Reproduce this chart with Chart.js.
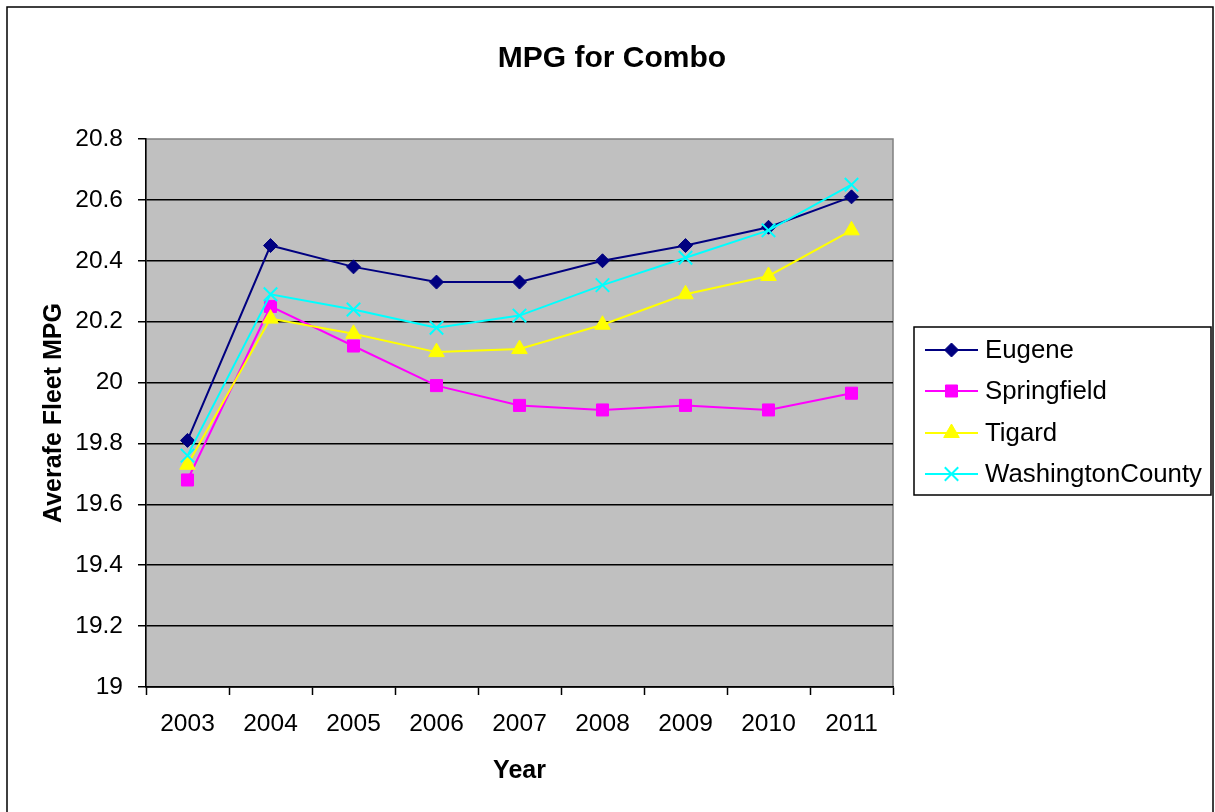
<!DOCTYPE html>
<html>
<head>
<meta charset="utf-8">
<title>MPG for Combo</title>
<script src="https://cdn.jsdelivr.net/npm/chart.js@4.4.1/dist/chart.umd.min.js"></script>
<style>
  html, body { margin: 0; padding: 0; background: #ffffff; }
  canvas { display: block; }
</style>
</head>
<body>
<canvas id="mpg" width="1215" height="812"></canvas>
<script>
// Average fleet MPG by year for each fleet
const years = ['2003', '2004', '2005', '2006', '2007', '2008', '2009', '2010', '2011'];
const eugene = [19.81, 20.45, 20.38, 20.33, 20.33, 20.40, 20.45, 20.51, 20.61];
const springfield = [19.68, 20.25, 20.12, 19.99, 19.925, 19.91, 19.925, 19.91, 19.965];
const tigard = [19.73, 20.21, 20.16, 20.10, 20.11, 20.19, 20.29, 20.35, 20.50];
const washingtonCounty = [19.76, 20.29, 20.24, 20.18, 20.22, 20.32, 20.41, 20.50, 20.65];

const seriesNames = ['Eugene', 'Springfield', 'Tigard', 'WashingtonCounty'];
const yMin = 19;
const yMax = 20.8;
const yStep = 0.2;

Chart.defaults.font.family = "'Liberation Sans', Arial, sans-serif";
Chart.defaults.color = '#000000';

// Page frame, grey plotting panel and the chart heading
const backdrop = {
  id: 'backdrop',
  beforeDraw(chart) {
    const { ctx, chartArea: a } = chart;
    ctx.save();
    ctx.fillStyle = '#ffffff';
    ctx.fillRect(0, 0, chart.width, chart.height);
    ctx.strokeStyle = '#000000';
    ctx.lineWidth = 1.5;
    ctx.strokeRect(7, 7, 1206, 900);
    ctx.fillStyle = '#c0c0c0';
    ctx.fillRect(a.left, a.top, a.right - a.left, a.bottom - a.top);
    ctx.strokeStyle = '#808080';
    ctx.lineWidth = 1.5;
    ctx.strokeRect(a.left, a.top, a.right - a.left, a.bottom - a.top);
    ctx.fillStyle = '#000000';
    ctx.font = "bold 30px 'Liberation Sans', Arial, sans-serif";
    ctx.textAlign = 'center';
    ctx.textBaseline = 'alphabetic';
    ctx.fillText('MPG for Combo', 612, 67);
    ctx.restore();
  }
};

// Boxed legend at the right of the plot
const boxedLegend = {
  id: 'boxedLegend',
  afterDraw(chart) {
    const { ctx } = chart;
    ctx.save();
    ctx.strokeStyle = '#000000';
    ctx.lineWidth = 1.5;
    ctx.strokeRect(914, 327, 297, 168);
    const rowY = [350, 391, 433, 474];
    ctx.font = "25.8px 'Liberation Sans', Arial, sans-serif";
    ctx.textAlign = 'left';
    ctx.textBaseline = 'middle';
    chart.data.datasets.forEach((ds, i) => {
      const y = rowY[i];
      ctx.strokeStyle = ds.borderColor;
      ctx.lineWidth = 2;
      ctx.beginPath();
      ctx.moveTo(925, y);
      ctx.lineTo(978, y);
      ctx.stroke();
      ctx.fillStyle = ds.pointBackgroundColor;
      ctx.strokeStyle = ds.pointBorderColor;
      ctx.lineWidth = ds.pointBorderWidth;
      Chart.helpers.drawPoint(ctx, {
        pointStyle: ds.pointStyle,
        radius: ds.pointRadius,
        rotation: 0,
        borderWidth: ds.pointBorderWidth
      }, 951.5, y);
      ctx.fillStyle = '#000000';
      ctx.fillText(ds.label, 985, y + 1);
    });
    ctx.restore();
  }
};

function series(label, values, color, style, radius, bw, order) {
  return {
    label: label,
    data: values,
    borderColor: color,
    backgroundColor: color,
    pointBackgroundColor: color,
    pointBorderColor: color,
    pointStyle: style,
    pointRadius: radius,
    pointHoverRadius: radius,
    pointBorderWidth: bw,
    borderWidth: 2,
    tension: 0,
    fill: false,
    order: order
  };
}

new Chart(document.getElementById('mpg'), {
  type: 'line',
  data: {
    labels: years,
    datasets: [
      series(seriesNames[0], eugene, '#000080', 'rectRot', 7, 1, 3),
      series(seriesNames[1], springfield, '#ff00ff', 'rect', 8.5, 1, 2),
      series(seriesNames[2], tigard, '#ffff00', 'triangle', 9, 1, 1),
      series(seriesNames[3], washingtonCounty, '#00ffff', 'crossRot', 9.5, 2, 0)
    ]
  },
  options: {
    responsive: false,
    animation: false,
    layout: { padding: { top: 139, right: 322, left: 0, bottom: 0 } },
    plugins: {
      legend: { display: false },
      title: { display: false },
      tooltip: { enabled: false }
    },
    scales: {
      x: {
        offset: true,
        grid: {
          offset: true,
          drawOnChartArea: false,
          tickLength: 8,
          tickColor: '#000000',
          tickWidth: 1.5
        },
        border: { color: '#000000', width: 1.5 },
        ticks: {
          font: { size: 24.5 },
          padding: 15,
          maxRotation: 0,
          autoSkip: false
        },
        title: {
          display: true,
          text: 'Year',
          font: { size: 25, weight: 'bold' },
          padding: { top: 0, bottom: 26 }
        },
        afterFit(scale) { scale.height = 125; }
      },
      y: {
        min: yMin,
        max: yMax,
        grid: {
          color: (c) => (c.tick && c.tick.value >= yMax - 1e-9) ? 'rgba(0,0,0,0)' : '#000000',
          lineWidth: 1.5,
          tickLength: 8,
          tickColor: '#000000',
          tickWidth: 1.5
        },
        border: { color: '#000000', width: 1.5 },
        ticks: {
          stepSize: yStep,
          font: { size: 24.5 },
          padding: 15,
          callback: (v) => String(Number(Number(v).toFixed(1)))
        },
        title: {
          display: true,
          text: 'Averafe Fleet MPG',
          font: { size: 25, weight: 'bold' },
          padding: { top: 39, bottom: 0 }
        },
        afterFit(scale) { scale.width = 146; }
      }
    }
  },
  plugins: [backdrop, boxedLegend]
});
</script>
</body>
</html>
